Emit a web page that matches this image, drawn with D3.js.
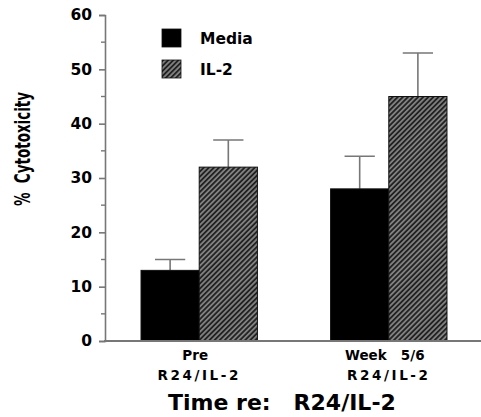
<!DOCTYPE html>
<html>
<head>
<meta charset="utf-8">
<script src="https://cdn.jsdelivr.net/npm/d3@7"></script>
<style>
  body { margin: 0; background: #fff; }
  svg text { font-family: "DejaVu Sans", sans-serif; font-weight: bold; fill: #000; }
</style>
</head>
<body>
<svg width="481" height="417"></svg>
<script>
// chart data
const groups = ["Pre", "Week 5/6"];
const groupLine1 = ["Pre", "Week   5/6"];
const groupLine2 = ["R24/IL-2", "R24/IL-2"];
const series = ["Media", "IL-2"];
const mediaValues = [13, 28];
const mediaUpper = [15, 34];
const il2Values = [32, 45];
const il2Upper = [37, 53];
const yTicks = [0, 10, 20, 30, 40, 50, 60];
const yMinorTicks = [5, 15, 25, 35, 45, 55];

const svg = d3.select("svg");
const axisColor = "#777";

// hatch pattern for IL-2
const defs = svg.append("defs");
const pat = defs
  .append("pattern")
  .attr("id", "hatch")
  .attr("patternUnits", "userSpaceOnUse")
  .attr("width", 3.6)
  .attr("height", 3.6)
  .attr("patternTransform", "rotate(45)");
pat.append("rect").attr("width", 3.6).attr("height", 3.6).attr("fill", "#808080");
pat.append("rect").attr("width", 1.8).attr("height", 3.6).attr("fill", "#222");

const fills = { "Media": "#000", "IL-2": "url(#hatch)" };

const y = d3.scaleLinear().domain([0, 60]).range([341, 15]);
const x0 = d3
  .scaleBand()
  .domain(groups)
  .range([105, 483])
  .paddingInner(0.386)
  .paddingOuter(0.19);
const x1 = d3.scaleBand().domain(series).range([0, x0.bandwidth()]);

const rows = groups.map((g, i) => ({
  group: g,
  bars: [
    { key: "Media", value: mediaValues[i], upper: mediaUpper[i] },
    { key: "IL-2", value: il2Values[i], upper: il2Upper[i] }
  ]
}));

// bars
const groupSel = svg
  .append("g")
  .selectAll("g")
  .data(rows)
  .enter()
  .append("g")
  .attr("transform", (d) => `translate(${x0(d.group)},0)`);

// error bars (drawn first so the bar covers the stem)
groupSel
  .selectAll(".err")
  .data((d) => d.bars)
  .enter()
  .append("path")
  .attr("class", "err")
  .attr("fill", "none")
  .attr("stroke", axisColor)
  .attr("stroke-width", 1.6)
  .attr("d", (d) => {
    const cx = x1(d.key) + x1.bandwidth() / 2;
    const hw = x1.bandwidth() * 0.26;
    return `M${cx},${y(d.value)}V${y(d.upper)}M${cx - hw},${y(d.upper)}H${cx + hw}`;
  });

groupSel
  .selectAll("rect")
  .data((d) => d.bars)
  .enter()
  .append("rect")
  .attr("x", (d) => x1(d.key))
  .attr("y", (d) => y(d.value))
  .attr("width", x1.bandwidth())
  .attr("height", (d) => y(0) - y(d.value))
  .attr("fill", (d) => fills[d.key])
  .attr("stroke", "#111")
  .attr("stroke-width", 1);

// y axis
const yAxis = d3
  .axisLeft(y)
  .tickValues(yTicks)
  .tickSize(6)
  .tickPadding(7)
  .tickFormat(d3.format("d"));

const yg = svg.append("g").attr("transform", "translate(105,0)").call(yAxis);
yg.select(".domain").attr("stroke", axisColor).attr("stroke-width", 1.6);
yg.selectAll(".tick line").attr("stroke", axisColor).attr("stroke-width", 1.6);
yg.selectAll(".tick text")
  .attr("font-size", 15.5)
  .style("font-family", "DejaVu Sans")
  .style("font-weight", "bold");

svg
  .append("g")
  .selectAll("line")
  .data(yMinorTicks)
  .enter()
  .append("line")
  .attr("x1", 101)
  .attr("x2", 105)
  .attr("y1", (d) => y(d))
  .attr("y2", (d) => y(d))
  .attr("stroke", axisColor)
  .attr("stroke-width", 1.4);

// baseline
svg
  .append("line")
  .attr("x1", 104)
  .attr("x2", 481)
  .attr("y1", y(0))
  .attr("y2", y(0))
  .attr("stroke", axisColor)
  .attr("stroke-width", 1.8);

// x category labels
const xl = svg.append("g");
xl.selectAll(".l1")
  .data(groups)
  .enter()
  .append("text")
  .attr("class", "l1")
  .attr("x", (d) => x0(d) + x0.bandwidth() / 2 - 4)
  .attr("y", 360)
  .attr("text-anchor", "middle")
  .attr("font-size", 13.5)
  .style("white-space", "pre")
  .text((d, i) => groupLine1[i]);

xl.selectAll(".l2")
  .data(groups)
  .enter()
  .append("text")
  .attr("class", "l2")
  .attr("x", (d) => x0(d) + x0.bandwidth() / 2)
  .attr("y", 380)
  .attr("text-anchor", "middle")
  .attr("font-size", 13.5)
  .attr("letter-spacing", 2.6)
  .text((d, i) => groupLine2[i]);

svg
  .append("text")
  .attr("x", 168)
  .attr("y", 410)
  .attr("font-size", 22)
  .style("white-space", "pre")
  .text("Time re:   R24/IL-2");

// y axis title (source figure is stretched horizontally)
svg
  .append("text")
  .attr("transform", "translate(30,149) scale(1.55,1) rotate(-90)")
  .attr("text-anchor", "middle")
  .attr("font-size", 13.5)
  .style("white-space", "pre")
  .text("%  Cytotoxicity");

// legend
const legend = svg.append("g").attr("transform", "translate(162,29)");
const li = legend
  .selectAll("g")
  .data(series)
  .enter()
  .append("g")
  .attr("transform", (d, i) => `translate(0,${i * 31})`);
li.append("rect")
  .attr("width", 19)
  .attr("height", 18)
  .attr("fill", (d) => fills[d])
  .attr("stroke", "#111")
  .attr("stroke-width", 0.8);
li.append("text")
  .attr("x", 38)
  .attr("y", 9)
  .attr("dy", "0.36em")
  .attr("font-size", 15.5)
  .text((d) => d);
</script>
</body>
</html>
